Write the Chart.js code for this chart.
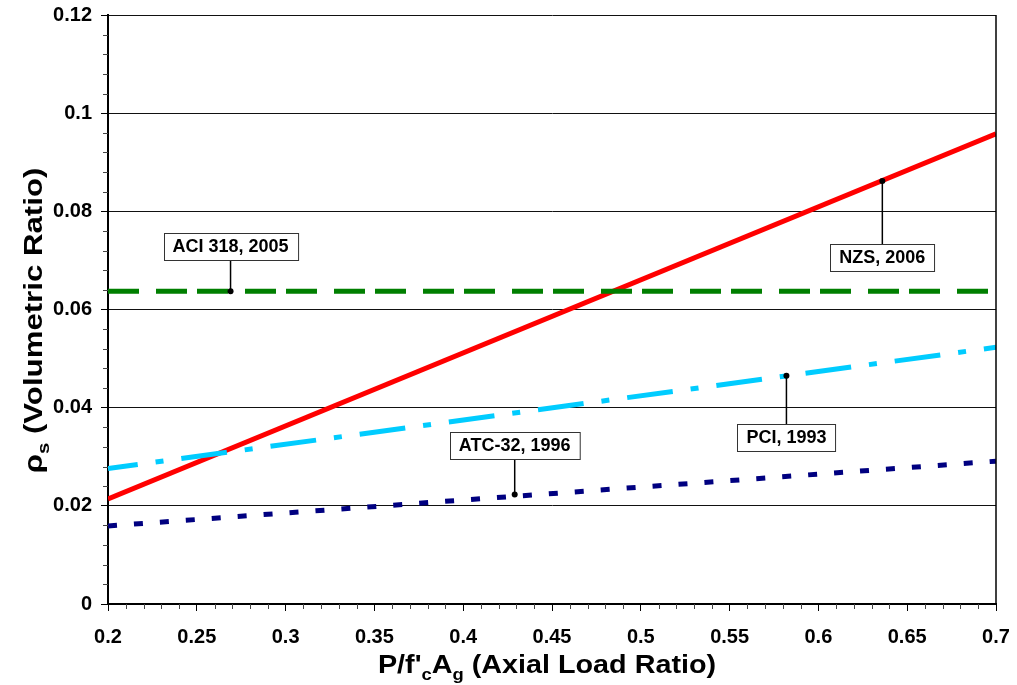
<!DOCTYPE html>
<html>
<head>
<meta charset="utf-8">
<script src="https://cdn.jsdelivr.net/npm/chart.js@4/dist/chart.umd.min.js"></script>
<style>
  html, body { margin: 0; padding: 0; background: #ffffff; }
  canvas { display: block; }
</style>
</head>
<body>
<canvas id="c" width="1017" height="685"></canvas>
<script>
// ---- Data ----
const xValues = [0.2, 0.7];
const nzs2006 = [0.0214, 0.0958];
const aci2005 = [0.0637, 0.0637];
const pci1993 = [0.0276, 0.0523];
const atc1996 = [0.0159, 0.0291];

const xTickLabels = ['0.2', '0.25', '0.3', '0.35', '0.4', '0.45', '0.5', '0.55', '0.6', '0.65', '0.7'];
const yTickLabels = ['0', '0.02', '0.04', '0.06', '0.08', '0.1', '0.12'];

const annLabels = ['ACI 318, 2005', 'NZS, 2006', 'PCI, 1993', 'ATC-32, 1996'];
const annX = [0.269, 0.636, 0.582, 0.429];
const annY = [0.0637, 0.0862, 0.0465, 0.0223];
const annLabelY = [0.0729, 0.0705, 0.0340, 0.0323];

const FONT = '"Liberation Sans", Arial, Helvetica, sans-serif';

function pts(ys) { return xValues.map((x, i) => ({ x: x, y: ys[i] })); }

// ---- Plugins ----
function drawRich(ctx, segs, size, sx) {
  const subSize = Math.round(size * 0.65);
  let total = 0;
  const widths = segs.map(s => {
    ctx.font = 'bold ' + (s.sub ? subSize : size) + 'px ' + FONT;
    const w = ctx.measureText(s.t).width;
    total += w;
    return w;
  });
  ctx.scale(sx, 1);
  let x = -total / 2;
  segs.forEach((s, i) => {
    ctx.font = 'bold ' + (s.sub ? subSize : size) + 'px ' + FONT;
    ctx.fillText(s.t, x, s.sub ? size * 0.28 : 0);
    x += widths[i];
  });
}

const decorPlugin = {
  id: 'decor',
  afterDraw(chart) {
    const ctx = chart.ctx;
    const a = chart.chartArea;
    const xs = chart.scales.x, ys = chart.scales.y;
    ctx.save();
    // right border
    ctx.strokeStyle = '#000';
    ctx.lineWidth = 1.5;
    ctx.beginPath();
    ctx.moveTo(a.right, a.top);
    ctx.lineTo(a.right, a.bottom + 1);
    ctx.stroke();
    // minor ticks
    ctx.lineWidth = 1;
    ctx.strokeStyle = '#444';
    for (let i = 0; i <= 30; i++) {
      if (i % 5 === 0) continue;
      const py = Math.round(ys.getPixelForValue(i * 0.004)) + 0.5;
      ctx.beginPath();
      ctx.moveTo(a.left - 5, py);
      ctx.lineTo(a.left, py);
      ctx.stroke();
    }
    for (let i = 20; i <= 70; i++) {
      if (i % 5 === 0) continue;
      const px = Math.round(xs.getPixelForValue(i / 100)) + 0.5;
      ctx.beginPath();
      ctx.moveTo(px, a.bottom);
      ctx.lineTo(px, a.bottom + 5);
      ctx.stroke();
    }
    // axis titles
    ctx.fillStyle = '#000';
    ctx.textBaseline = 'alphabetic';
    ctx.textAlign = 'left';
    ctx.save();
    ctx.translate((a.left + a.right) / 2 - 5, 673);
    drawRich(ctx, [{t: "P/f'"}, {t: 'c', sub: true}, {t: 'A'}, {t: 'g', sub: true}, {t: ' (Axial Load Ratio)'}], 25, 1.15);
    ctx.restore();
    ctx.save();
    ctx.translate(42, (a.top + a.bottom) / 2 + 11);
    ctx.rotate(-Math.PI / 2);
    drawRich(ctx, [{t: '\u03C1'}, {t: 's', sub: true}, {t: ' (Volumetric Ratio)'}], 26, 1.2);
    ctx.restore();
    // annotations
    for (let i = 0; i < annLabels.length; i++) {
      const px = xs.getPixelForValue(annX[i]);
      const py = ys.getPixelForValue(annY[i]);
      const ly = ys.getPixelForValue(annLabelY[i]);
      ctx.font = 'bold 18px ' + FONT;
      const tw = ctx.measureText(annLabels[i]).width;
      const bw = tw + 18, bh = 27;
      const bx = Math.round(px - bw / 2), by = Math.round(ly - bh / 2);
      ctx.strokeStyle = '#000';
      ctx.lineWidth = 1.5;
      ctx.beginPath();
      ctx.moveTo(px, py);
      ctx.lineTo(px, ly < py ? by + bh : by);
      ctx.stroke();
      ctx.fillStyle = '#000';
      ctx.beginPath();
      ctx.arc(px, py, 3, 0, Math.PI * 2);
      ctx.fill();
      ctx.fillStyle = '#fff';
      ctx.fillRect(bx, by, bw, bh);
      ctx.strokeStyle = '#333';
      ctx.lineWidth = 1;
      ctx.strokeRect(bx + 0.5, by + 0.5, bw, bh);
      ctx.fillStyle = '#000';
      ctx.textAlign = 'center';
      ctx.textBaseline = 'middle';
      ctx.fillText(annLabels[i], px, by + bh / 2 + 1);
      ctx.textAlign = 'left';
      ctx.textBaseline = 'alphabetic';
    }
    ctx.restore();
  }
};

function zeroPad(s) { s.paddingTop = 0; s.paddingBottom = 0; s.paddingLeft = 0; s.paddingRight = 0; }

// ---- Chart ----
new Chart(document.getElementById('c').getContext('2d'), {
  type: 'line',
  data: {
    datasets: [
      { label: 'ACI 318, 2005', data: pts(aci2005), borderColor: '#007f00', borderWidth: 5, borderDash: [31, 17, 31, 10], pointRadius: 0, fill: false },
      { label: 'ATC-32, 1996', data: pts(atc1996), borderColor: '#000080', borderWidth: 5, borderDash: [9, 17], borderDashOffset: 0, pointRadius: 0, fill: false },
      { label: 'PCI, 1993', data: pts(pci1993), borderColor: '#00ccff', borderWidth: 5, borderDash: [46, 18, 8, 18], borderDashOffset: 16, pointRadius: 0, fill: false },
      { label: 'NZS, 2006', data: pts(nzs2006), borderColor: '#ff0000', borderWidth: 5, pointRadius: 0, fill: false }
    ]
  },
  options: {
    responsive: false,
    animation: false,
    events: [],
    layout: { padding: { top: 15, right: 21, left: 0, bottom: 0 } },
    plugins: { legend: { display: false }, tooltip: { enabled: false }, title: { display: false } },
    scales: {
      x: {
        type: 'linear', min: 0.2, max: 0.7,
        afterFit(s) { s.height = 81; zeroPad(s); },
        border: { display: true, color: '#000', width: 2 },
        grid: { drawOnChartArea: false, drawTicks: true, tickLength: 7, tickColor: '#000', tickWidth: 1 },
        ticks: {
          stepSize: 0.05, autoSkip: false, maxRotation: 0, padding: 14,
          color: '#000', font: { family: FONT, size: 20, weight: 'bold' },
          callback: (v, i) => xTickLabels[i]
        }
      },
      y: {
        type: 'linear', min: 0, max: 0.12,
        afterFit(s) { s.width = 108; zeroPad(s); },
        border: { display: true, color: '#000', width: 2 },
        grid: { color: '#111', lineWidth: 1, drawTicks: true, tickLength: 7, tickColor: '#000', tickWidth: 1 },
        ticks: {
          stepSize: 0.02, autoSkip: false, padding: 9,
          color: '#000', font: { family: FONT, size: 20, weight: 'bold' },
          callback: (v, i) => yTickLabels[i]
        }
      }
    }
  },
  plugins: [decorPlugin]
});
</script>
</body>
</html>
